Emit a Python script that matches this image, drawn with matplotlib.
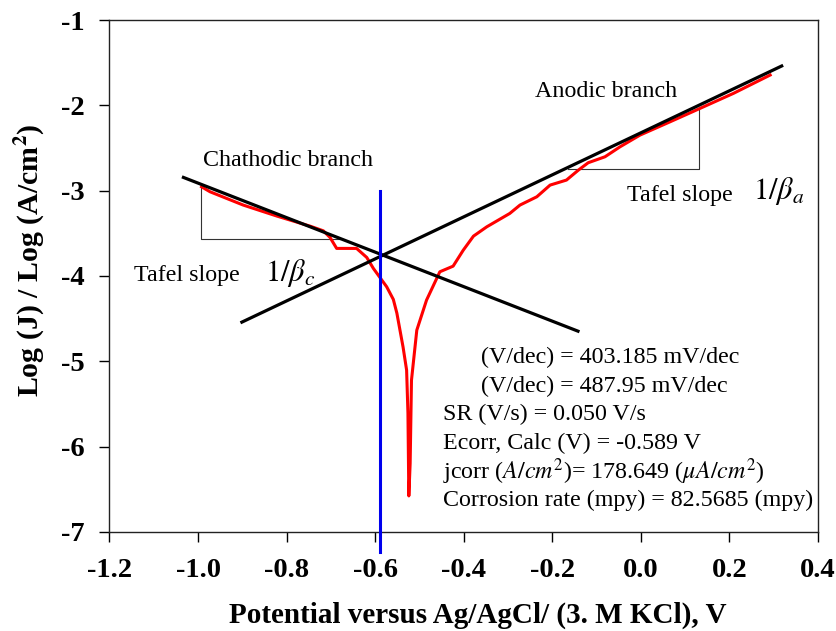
import matplotlib
matplotlib.use("Agg")
import matplotlib.pyplot as plt

plt.rcParams['font.family'] = ['Liberation Serif', 'DejaVu Serif']
plt.rcParams['mathtext.fontset'] = 'stix'

# polarisation curve: potential (V) vs log current density
potential = [-0.992, -0.973, -0.898, -0.822, -0.747, -0.717, -0.702, -0.687, -0.642,
             -0.619, -0.604, -0.574, -0.559, -0.551, -0.537, -0.529, -0.526, -0.524,
             -0.521, -0.518, -0.506, -0.484, -0.454, -0.424, -0.401, -0.378, -0.348,
             -0.296, -0.273, -0.235, -0.205, -0.168, -0.141, -0.119, -0.081, -0.047,
             -0.002, 0.066, 0.134, 0.209, 0.292]
log_j = [-2.955, -3.013, -3.169, -3.298, -3.416, -3.471, -3.548, -3.677, -3.677,
         -3.783, -3.912, -4.127, -4.275, -4.436, -4.834, -5.104, -5.608, -6.578,
         -6.195, -5.221, -4.635, -4.283, -3.951, -3.885, -3.697, -3.533, -3.424,
         -3.267, -3.169, -3.072, -2.935, -2.876, -2.759, -2.673, -2.603, -2.486,
         -2.349, -2.193, -2.035, -1.860, -1.645]

# Tafel fit lines (end points)
cath_x = [-1.033, -0.142]
cath_y = [-2.845, -4.647]
anod_x = [-0.901, 0.318]
anod_y = [-4.541, -1.539]

# slope triangles
cath_tri_x = [-0.994, -0.994, -0.679]
cath_tri_y = [-2.955, -3.572, -3.572]
anod_tri_x = [-0.165, 0.131, 0.131]
anod_tri_y = [-2.751, -2.751, -2.032]

ecorr = -0.589
ecorr_y = [-3.0, -7.24]

beta_a = 403.185
beta_c = 487.95
scan_rate = 0.050
jcorr = 178.649
corr_rate = 82.5685

fs = 17.3

fig = plt.figure(figsize=(8.37, 6.31), dpi=100)
ax = fig.add_axes([0.1308, 0.157, 0.8465, 0.8113])

ax.plot(potential, log_j, color='red', lw=2.2, zorder=2)
ax.plot(cath_x, cath_y, color='black', lw=2.3, zorder=3)
ax.plot(anod_x, anod_y, color='black', lw=2.3, zorder=3)
ax.plot(cath_tri_x, cath_tri_y, color='#333333', lw=0.8, zorder=1)
ax.plot(anod_tri_x, anod_tri_y, color='#333333', lw=0.8, zorder=1)
ax.plot([ecorr, ecorr], ecorr_y, color='#0000ee', lw=2.2, zorder=4, clip_on=False)

ax.set_xlim(-1.2, 0.4)
ax.set_ylim(-7, -1)
ax.set_xticks([-1.2, -1.0, -0.8, -0.6, -0.4, -0.2, 0.0, 0.2, 0.4])
ax.set_yticks([-7, -6, -5, -4, -3, -2, -1])
ax.set_xticklabels(['%.1f' % v for v in ax.get_xticks()])
ax.set_yticklabels(['%d' % v for v in ax.get_yticks()])
ax.tick_params(axis='x', direction='out', length=7, width=1, pad=12, labelsize=20.5)
ax.tick_params(axis='y', direction='out', length=7, width=1, pad=11, labelsize=20.5)
for lab in ax.get_xticklabels() + ax.get_yticklabels():
    lab.set_fontweight('bold')
for s in ax.spines.values():
    s.set_linewidth(1.0)
    s.set_color('#222222')

ax.set_xlabel('Potential versus Ag/AgCl/ (3. M KCl), V', fontsize=21,
              fontweight='bold')
ax.xaxis.set_label_coords(0.52, -0.137)
ax.set_ylabel(r'Log (J) / Log (A/cm$^\mathbf{2}$)', fontsize=21.5,
              fontweight='bold')
ax.yaxis.set_label_coords(-0.088, 0.53)

ax.text(-0.24, -1.84, 'Anodic branch', fontsize=fs, va='center')
ax.text(-0.989, -2.65, 'Chathodic branch', fontsize=fs, va='center')
ax.text(-1.145, -4.0, 'Tafel slope', fontsize=fs, va='center')
ax.text(-0.849, -3.97, r'$1/\beta_c$', fontsize=22, va='center')
ax.text(-0.031, -3.06, 'Tafel slope', fontsize=fs, va='center')
ax.text(0.253, -3.0, r'$1/\beta_a$', fontsize=22, va='center')

lines = [
    (-0.361, '(V/dec) = %.3f mV/dec' % beta_a),
    (-0.361, '(V/dec) = %.2f mV/dec' % beta_c),
    (-0.447, 'SR (V/s) = %.3f V/s' % scan_rate),
    (-0.447, 'Ecorr, Calc (V) = %.3f V' % ecorr),
    (-0.447, r'jcorr ($A/cm^2$)= %.3f ($\mu A/cm^2$)' % jcorr),
    (-0.447, 'Corrosion rate (mpy) = %.4f (mpy)' % corr_rate),
]
y0 = -4.96
for i, (xl, t) in enumerate(lines):
    ax.text(xl, y0 - i * 0.333, t, fontsize=fs, va='center')

fig.savefig('out.png', dpi=100)
